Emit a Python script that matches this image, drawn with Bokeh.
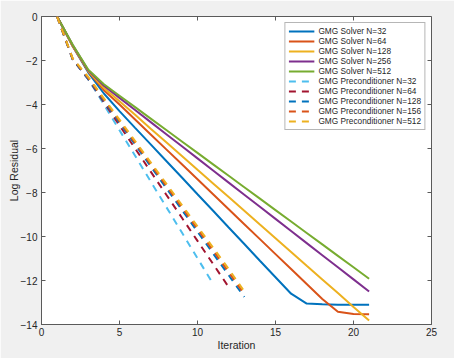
from bokeh.plotting import figure
from bokeh.models import FixedTicker, Range1d
from bokeh.embed import file_html
from bokeh.resources import INLINE

# Log residual per iteration for the multigrid solver runs
solver_iters = list(range(1, 22))
solver_n32 = [0, -1.35, -2.55, -3.5, -4.3, -5.06, -5.81, -6.57, -7.32, -8.08, -8.83,
              -9.59, -10.34, -11.1, -11.85, -12.6, -13.05, -13.08, -13.1, -13.1, -13.1]
solver_n64 = [0, -1.35, -2.5, -3.35, -4.0, -4.68, -5.36, -6.04, -6.72, -7.4, -8.08,
              -8.76, -9.44, -10.12, -10.8, -11.48, -12.16, -12.84, -13.42, -13.52, -13.53]
solver_n128 = [0, -1.33, -2.48, -3.25, -3.85, -4.47, -5.1, -5.72, -6.34, -6.97, -7.59,
               -8.21, -8.83, -9.46, -10.08, -10.7, -11.33, -11.95, -12.57, -13.2, -13.82]
solver_n256 = [0, -1.3, -2.45, -3.15, -3.7, -4.25, -4.8, -5.35, -5.9, -6.45, -7.0,
               -7.55, -8.1, -8.65, -9.2, -9.75, -10.3, -10.85, -11.4, -11.95, -12.5]
solver_n512 = [0, -1.28, -2.42, -3.08, -3.6, -4.12, -4.64, -5.16, -5.68, -6.2, -6.72,
               -7.24, -7.76, -8.28, -8.8, -9.32, -9.84, -10.36, -10.88, -11.4, -11.92]

# Log residual per iteration when multigrid is used as a preconditioner
pre_iters_n32 = list(range(1, 12))
pre_n32 = [0, -1.95, -2.85, -4.0, -5.17, -6.33, -7.5, -8.66, -9.82, -10.99, -12.15]
pre_iters_n64 = list(range(1, 13))
pre_n64 = [0, -1.95, -2.85, -3.9, -4.95, -6.0, -7.05, -8.1, -9.15, -10.2, -11.25, -12.3]
pre_iters_n128 = list(range(1, 14))
pre_n128 = [0, -1.95, -2.85, -3.84, -4.83, -5.82, -6.81, -7.8, -8.79, -9.78, -10.77,
            -11.76, -12.75]
pre_iters_n156 = list(range(1, 14))
pre_n156 = [0, -1.93, -2.8, -3.78, -4.76, -5.74, -6.72, -7.7, -8.68, -9.66, -10.64,
            -11.62, -12.62]
pre_iters_n512 = list(range(1, 14))
pre_n512 = [0, -1.9, -2.75, -3.72, -4.69, -5.66, -6.63, -7.6, -8.57, -9.54, -10.51,
            -11.48, -12.5]

x_ticks = [0, 5, 10, 15, 20, 25]
y_ticks = [-14, -12, -10, -8, -6, -4, -2, 0]

FONT = "Liberation Sans"
TEXT = "#262626"
AXIS = "#5a5a5a"

W, H = 454, 358
BL, BR, BT, BB = 41, 23, 16, 34
X0, X1, Y0, Y1 = 0, 25, -14, 0

p = figure(width=W, height=H, output_backend="svg", toolbar_location=None,
           x_range=Range1d(X0, X1), y_range=Range1d(Y0, Y1),
           min_border_left=BL, min_border_right=BR, min_border_top=BT,
           min_border_bottom=BB)
p.border_fill_color = "#F0F0F0"
p.background_fill_color = "white"
p.outline_line_color = AXIS
p.outline_line_width = 1
p.xgrid.visible = False
p.ygrid.visible = False

solver = [
    (solver_n32, "#0072BD", "GMG Solver N=32"),
    (solver_n64, "#D95319", "GMG Solver N=64"),
    (solver_n128, "#EDB120", "GMG Solver N=128"),
    (solver_n256, "#7E2F8E", "GMG Solver N=256"),
    (solver_n512, "#77AC30", "GMG Solver N=512"),
]
for ys, color, label in solver:
    p.line(solver_iters, ys, line_color=color, line_width=2, legend_label=label)

precond = [
    (pre_iters_n32, pre_n32, "#4DBEEE", "GMG Preconditioner N=32"),
    (pre_iters_n64, pre_n64, "#A2142F", "GMG Preconditioner N=64"),
    (pre_iters_n128, pre_n128, "#0072BD", "GMG Preconditioner N=128"),
    (pre_iters_n156, pre_n156, "#D95319", "GMG Preconditioner N=156"),
    (pre_iters_n512, pre_n512, "#EDB120", "GMG Preconditioner N=512"),
]
for xs, ys, color, label in precond:
    p.line(xs, ys, line_color=color, line_width=2, line_dash="7 6",
           legend_label=label)

# Main axes
for ax in (p.xaxis[0], p.yaxis[0]):
    ax.axis_line_color = AXIS
    ax.major_tick_line_color = AXIS
    ax.major_tick_in = 4
    ax.major_tick_out = 0
    ax.minor_tick_line_color = None
    ax.major_label_text_font = FONT
    ax.major_label_text_font_size = "10px"
    ax.major_label_text_color = TEXT
    ax.axis_label_text_font = FONT
    ax.axis_label_text_font_size = "10.5px"
    ax.axis_label_text_font_style = "normal"
    ax.axis_label_text_color = TEXT

p.xaxis.ticker = FixedTicker(ticks=x_ticks)
p.yaxis.ticker = FixedTicker(ticks=y_ticks)
p.xaxis.axis_label = "Iteration"
p.yaxis.axis_label = "Log Residual"
p.xaxis.major_label_standoff = 3
p.xaxis.axis_label_standoff = 0
p.yaxis.major_label_standoff = 4
p.yaxis.axis_label_standoff = -2

# Inward ticks along the top and right edges of the box (4 px long)
frame_w = W - BL - BR
frame_h = H - BT - BB
tick_dy = 4 * (Y1 - Y0) / frame_h
tick_dx = 4 * (X1 - X0) / frame_w
p.segment(x0=x_ticks, y0=[Y1] * len(x_ticks), x1=x_ticks,
          y1=[Y1 - tick_dy] * len(x_ticks), line_color=AXIS, line_width=1)
p.segment(x0=[X1] * len(y_ticks), y0=y_ticks, x1=[X1 - tick_dx] * len(y_ticks),
          y1=y_ticks, line_color=AXIS, line_width=1)

leg = p.legend[0]
leg.location = "top_right"
leg.margin = 6
leg.padding = 3
leg.spacing = 0
leg.glyph_width = 26
leg.glyph_height = 10
leg.label_height = 10
leg.label_standoff = 4
leg.label_text_font = FONT
leg.label_text_font_size = "8.3px"
leg.label_text_color = TEXT
leg.border_line_color = "#6e6e6e"
leg.border_line_width = 1
leg.background_fill_color = "white"
leg.background_fill_alpha = 1

open("out.html", "w").write(file_html(p, INLINE))
